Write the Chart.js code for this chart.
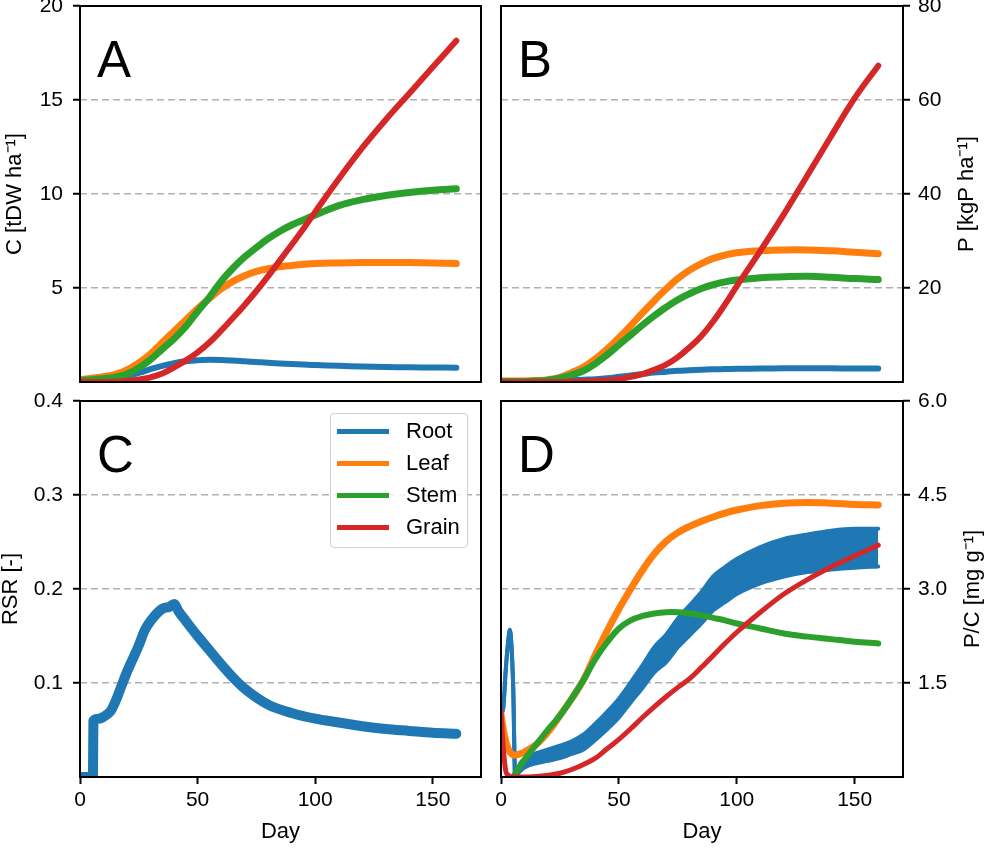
<!DOCTYPE html>
<html>
<head>
<meta charset="utf-8">
<title>C, P, RSR and P/C by organ</title>
<script src="https://cdn.jsdelivr.net/npm/chart.js@4.4.1/dist/chart.umd.min.js"></script>
<style>
  html, body { margin: 0; padding: 0; background: #fff; }
  #wrap { position: relative; width: 992px; height: 849px; overflow: hidden; }
  #wrap canvas { position: absolute; left: 0; top: 0; }
  #legend {
    position: absolute; left: 330px; top: 413px; width: 138px; height: 135px;
    box-sizing: border-box; border: 1.3px solid #d0d0d0; border-radius: 4px;
    background: rgba(255, 255, 255, 0.8);
    font: 22px "Liberation Sans", Arial, sans-serif; color: #000; z-index: 5;
  }
  .item { position: absolute; left: 0; height: 0; }
  .swatch { position: absolute; left: 6px; width: 52px; height: 5px; top: -2.5px; }
  .label { position: absolute; left: 75px; top: -13px; line-height: 26px; white-space: nowrap; }
</style>
</head>
<body>
<div id="wrap">
  <canvas id="panelA" width="992" height="849"></canvas>
  <canvas id="panelB" width="992" height="849"></canvas>
  <canvas id="panelC" width="992" height="849"></canvas>
  <canvas id="panelD" width="992" height="849"></canvas>
  <div id="legend"></div>
</div>
<script>
// series names / colours (shared legend)
const seriesNames = ['Root', 'Leaf', 'Stem', 'Grain'];
const seriesColors = ['#1f77b4', '#ff7f0e', '#2ca02c', '#d62728'];

// x axis (days)
const xTicks = [0, 50, 100, 150];
const days = [0, 5, 10, 15, 20, 25, 30, 35, 40, 45, 50, 55, 60, 65, 70, 75, 80, 85, 90, 95, 100, 110, 120, 130, 140, 150, 160];

// A: carbon [tDW ha-1]
const carbonTicks = [5, 10, 15, 20];
const carbonRoot  = [0.08, 0.12, 0.17, 0.23, 0.33, 0.49, 0.68, 0.86, 1.0, 1.1, 1.16, 1.18, 1.17, 1.14, 1.1, 1.06, 1.02, 0.99, 0.96, 0.93, 0.9, 0.86, 0.83, 0.8, 0.78, 0.77, 0.76];
const carbonLeaf  = [0.12, 0.2, 0.28, 0.4, 0.65, 1.02, 1.5, 2.1, 2.7, 3.3, 3.9, 4.45, 4.95, 5.35, 5.65, 5.88, 6.03, 6.13, 6.2, 6.26, 6.3, 6.33, 6.35, 6.36, 6.35, 6.33, 6.3];
const carbonStem  = [0.08, 0.12, 0.18, 0.25, 0.42, 0.75, 1.2, 1.75, 2.3, 2.95, 3.75, 4.5, 5.35, 6.05, 6.65, 7.15, 7.62, 8.02, 8.35, 8.62, 8.88, 9.38, 9.7, 9.92, 10.08, 10.2, 10.28];
const carbonGrain = [0, 0, 0, 0.02, 0.06, 0.13, 0.25, 0.45, 0.78, 1.15, 1.58, 2.1, 2.73, 3.4, 4.1, 4.84, 5.63, 6.47, 7.3, 8.15, 9.05, 10.8, 12.45, 13.95, 15.35, 16.75, 18.15];

// B: phosphorus [kgP ha-1]
const phosTicks = [20, 40, 60, 80];
const phosRoot  = [0.1, 0.1, 0.1, 0.1, 0.2, 0.3, 0.4, 0.5, 0.6, 0.8, 1.1, 1.4, 1.7, 2.0, 2.2, 2.4, 2.5, 2.6, 2.7, 2.75, 2.8, 2.85, 2.9, 2.9, 2.9, 2.85, 2.85];
const phosLeaf  = [0.2, 0.2, 0.2, 0.3, 0.5, 1.0, 2.0, 3.2, 4.9, 7.0, 9.4, 12.0, 14.7, 17.3, 19.8, 22.0, 23.8, 25.2, 26.3, 27.0, 27.5, 27.9, 28.1, 28.1, 27.9, 27.6, 27.3];
const phosStem  = [0.1, 0.1, 0.1, 0.2, 0.4, 0.8, 1.5, 2.4, 3.9, 5.8, 7.9, 10.0, 12.1, 14.1, 15.9, 17.5, 18.8, 19.9, 20.7, 21.3, 21.7, 22.2, 22.4, 22.5, 22.3, 22.0, 21.8];
const phosGrain = [0, 0, 0, 0, 0, 0, 0.1, 0.15, 0.25, 0.35, 0.6, 1.1, 1.7, 2.6, 3.7, 5.3, 7.4, 9.8, 12.9, 16.5, 20.4, 27.9, 35.7, 44.0, 52.3, 60.4, 67.3];

// C: root/shoot ratio [-]
const rsrTicks = [0.1, 0.2, 0.3, 0.4];
const rsrDays = [0, 5.5, 5.7, 8, 10, 13, 15, 17.5, 20, 25, 27.5, 30, 35, 38, 40, 42, 45, 50, 55, 60, 65, 70, 80, 90, 100, 110, 120, 130, 140, 150, 160];
const rsrRoot = [0, 0, 0.06, 0.062, 0.064, 0.07, 0.08, 0.096, 0.112, 0.14, 0.156, 0.166, 0.179, 0.181, 0.184, 0.176, 0.166, 0.15, 0.135, 0.12, 0.106, 0.094, 0.077, 0.068, 0.062, 0.058, 0.054, 0.051, 0.049, 0.047, 0.046];

const pcTicks = [1.5, 3.0, 4.5, 6.0];
const pcDays = [0, 1, 2, 3, 3.8, 4.5, 5.2, 6, 8, 10, 15, 20, 25, 30, 35, 40, 45, 50, 55, 60, 65, 70, 75, 80, 85, 90, 95, 100, 110, 120, 130, 140, 150, 160];
const pcRootHigh = [1.0, 1.12, 1.7, 2.15, 2.35, 2.05, 1.4, 0, 0.21, 0.29, 0.38, 0.44, 0.5, 0.57, 0.68, 0.85, 1.04, 1.25, 1.51, 1.78, 2.07, 2.27, 2.53, 2.74, 2.95, 3.2, 3.35, 3.48, 3.67, 3.8, 3.87, 3.93, 3.96, 3.96];
const pcRootLow  = [1.0, 1.12, 1.7, 2.15, 2.35, 2.05, 1.4, 0, 0.09, 0.15, 0.22, 0.26, 0.3, 0.37, 0.44, 0.59, 0.76, 0.95, 1.19, 1.42, 1.67, 1.83, 2.07, 2.26, 2.45, 2.66, 2.79, 2.92, 3.09, 3.2, 3.27, 3.31, 3.34, 3.36];
const pcLeaf  = [1.0, 0.75, 0.57, 0.45, 0.4, 0.37, 0.35, 0.35, 0.37, 0.4, 0.52, 0.72, 0.98, 1.25, 1.55, 1.95, 2.33, 2.68, 3.0, 3.3, 3.56, 3.76, 3.9, 4.0, 4.08, 4.15, 4.21, 4.26, 4.33, 4.37, 4.38, 4.37, 4.35, 4.34];
const pcStem  = [null, null, null, null, null, null, 0, 0.05, 0.17, 0.28, 0.52, 0.76, 0.98, 1.25, 1.55, 1.88, 2.15, 2.37, 2.5, 2.57, 2.61, 2.63, 2.63, 2.61, 2.58, 2.54, 2.5, 2.45, 2.37, 2.29, 2.24, 2.2, 2.16, 2.13];
const pcGrain = [1.05, 0.45, 0.1, 0.03, 0.01, 0, 0, 0, 0, 0, 0.01, 0.03, 0.06, 0.12, 0.2, 0.3, 0.45, 0.6, 0.77, 0.95, 1.12, 1.28, 1.43, 1.57, 1.75, 1.94, 2.13, 2.31, 2.63, 2.92, 3.15, 3.35, 3.53, 3.7];

const FONT = '"Liberation Sans", Arial, sans-serif';
Chart.defaults.font.family = FONT;
Chart.defaults.color = '#000';

const pts = (xs, ys) => xs.map((x, i) => ({ x: x, y: ys[i] })).filter(p => p.y !== null);
const MONO = { cubicInterpolationMode: 'monotone' };

function line(k, xs, ys, width, extra) {
  return Object.assign({
    label: seriesNames[k],
    data: pts(xs, ys),
    borderColor: seriesColors[k],
    backgroundColor: seriesColors[k],
    borderWidth: width,
    pointRadius: 0,
    tension: 0.4,
    borderCapStyle: 'round',
    borderJoinStyle: 'round',
    fill: false,
    clip: 0,
    order: 3 - k   // grain on top, root at the bottom
  }, extra || {});
}

// black box round each plot
const frame = {
  id: 'frame',
  afterDatasetsDraw(chart) {
    const { ctx, chartArea: a } = chart;
    ctx.save();
    ctx.strokeStyle = '#000';
    ctx.lineWidth = 2;
    ctx.strokeRect(a.left, a.top, a.right - a.left, a.bottom - a.top);
    ctx.restore();
  }
};

// big panel letter
const panelLetter = {
  id: 'panelLetter',
  afterDraw(chart, args, opts) {
    const { ctx, chartArea: a } = chart;
    ctx.save();
    ctx.font = '51px ' + FONT;
    ctx.fillStyle = '#000';
    ctx.fillText(opts.text, a.left + 17, a.top + 71);
    ctx.restore();
  }
};

// right-hand axis title, read bottom to top like the left ones
const sideTitle = {
  id: 'sideTitle',
  afterDraw(chart, args, opts) {
    if (!opts.text) return;
    const { ctx, chartArea: a } = chart;
    ctx.save();
    ctx.translate(opts.x, (a.top + a.bottom) / 2);
    ctx.rotate(-Math.PI / 2);
    ctx.font = '22px ' + FONT;
    ctx.fillStyle = '#000';
    ctx.textAlign = 'center';
    ctx.textBaseline = 'middle';
    ctx.fillText(opts.text, 0, 0);
    ctx.restore();
  }
};

function xScale(bottomRow) {
  return {
    type: 'linear', min: 0, max: 170.5,
    display: bottomRow,
    afterBuildTicks: s => { s.ticks = xTicks.map(v => ({ value: v })); },
    afterFit: s => { s.height = bottomRow ? 72 : 0; s.paddingLeft = 0; s.paddingRight = 0; },
    grid: { drawOnChartArea: false, drawTicks: true, tickLength: 7, tickColor: '#000', tickWidth: 2 },
    border: { display: false },
    ticks: { padding: 4, font: { size: 21 }, color: '#000', maxRotation: 0 },
    title: { display: true, text: 'Day', font: { size: 22, lineHeight: 1 }, padding: { top: 0, bottom: 6 }, color: '#000' }
  };
}

function yScale(side, max, tickVals, fmt, title) {
  const left = side === 'left';
  return {
    type: 'linear', position: side, min: 0, max: max,
    afterBuildTicks: s => { s.ticks = tickVals.map(v => ({ value: v })); },
    afterFit: s => { s.width = left ? 80 : 89; s.paddingTop = 0; s.paddingBottom = 0; },
    grid: { color: '#b0b0b0', lineWidth: 1.5, drawTicks: true, tickLength: 7, tickColor: '#000', tickWidth: 2, tickBorderDash: [] },
    border: { display: false, dash: [7, 4] },
    ticks: { padding: left ? 10 : 8, font: { size: 21 }, color: '#000', callback: fmt },
    title: title
      ? { display: true, text: title.text, font: { size: 22, lineHeight: 1 }, padding: { top: title.pad, bottom: 0 }, color: '#000' }
      : { display: false }
  };
}

function panel(id, datasets, pad, x, y, letter, side) {
  return new Chart(document.getElementById(id), {
    type: 'line',
    data: { datasets: datasets },
    options: {
      responsive: false,
      animation: false,
      devicePixelRatio: 1,
      events: [],
      layout: { padding: pad },
      scales: { x: x, y: y },
      plugins: {
        legend: { display: false },
        tooltip: { enabled: false },
        panelLetter: { text: letter },
        sideTitle: side || {}
      }
    },
    plugins: [frame, panelLetter, sideTitle]
  });
}

const int = v => String(v);
const dec = v => v.toFixed(1);

// A
panel('panelA', [
  line(0, days, carbonRoot, 6),
  line(1, days, carbonLeaf, 7),
  line(2, days, carbonStem, 7),
  line(3, days, carbonGrain, 6)
], { left: 0, top: 6, right: 511, bottom: 467 },
  xScale(false), yScale('left', 20, carbonTicks, int, { text: 'C [tDW ha\u207B\u00B9]', pad: 4 }), 'A');

// B
panel('panelB', [
  line(0, days, phosRoot, 6),
  line(1, days, phosLeaf, 7),
  line(2, days, phosStem, 7),
  line(3, days, phosGrain, 6)
], { left: 501, top: 6, right: 0, bottom: 467 },
  xScale(false), yScale('right', 80, phosTicks, int, null), 'B',
  { text: 'P [kgP ha\u207B\u00B9]', x: 967 });

// C
panel('panelC', [
  line(0, rsrDays, rsrRoot, 10, MONO)
], { left: 0, top: 401, right: 511, bottom: 0 },
  xScale(true), yScale('left', 0.4, rsrTicks, dec, { text: 'RSR [-]', pad: 0 }), 'C');

// D
panel('panelD', [
  line(0, pcDays, pcRootHigh, 4, MONO),
  line(0, pcDays, pcRootLow, 4, Object.assign({ fill: '-1' }, MONO)),
  line(1, pcDays, pcLeaf, 7),
  line(2, pcDays, pcStem, 6),
  line(3, pcDays, pcGrain, 5, MONO)
], { left: 501, top: 401, right: 0, bottom: 0 },
  xScale(true), yScale('right', 6, pcTicks, dec, null), 'D',
  { text: 'P/C [mg g\u207B\u00B9]', x: 973 });

// shared legend sitting inside panel C
const legend = document.getElementById('legend');
const rowY = [17, 49, 81, 113];
seriesNames.forEach((name, i) => {
  const item = document.createElement('div');
  item.className = 'item';
  item.style.top = rowY[i] + 'px';
  item.innerHTML = '<span class="swatch" style="background:' + seriesColors[i] + '"></span><span class="label">' + name + '</span>';
  legend.appendChild(item);
});
</script>
</body>
</html>
